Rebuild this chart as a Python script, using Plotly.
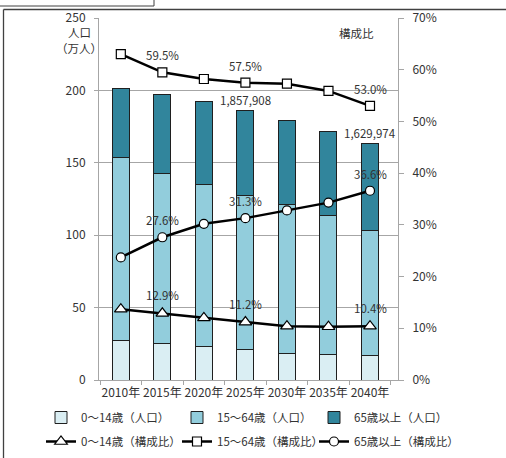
import plotly.graph_objects as go

# ---- data ----
years = ["2010年", "2015年", "2020年", "2025年", "2030年", "2035年", "2040年"]
pop_0_14 = [27.6, 25.4, 23.1, 20.8, 18.6, 17.7, 17.0]        # 万人
pop_15_64 = [126.3, 117.2, 112.0, 106.8, 102.7, 96.0, 86.4]  # 万人
pop_65 = [47.5, 54.4, 57.4, 58.2, 58.0, 58.0, 59.6]          # 万人
total_labels = ["", "", "", "1,857,908", "", "", "1,629,974"]

ratio_0_14 = [13.7, 12.9, 12.0, 11.2, 10.4, 10.3, 10.4]      # %
ratio_15_64 = [63.0, 59.5, 58.2, 57.5, 57.3, 55.9, 53.0]     # %
ratio_65 = [23.7, 27.6, 30.2, 31.3, 32.8, 34.3, 36.6]        # %
label_idx = [1, 3, 6]

FONT = "Noto Sans CJK JP, Noto Sans, sans-serif"
TXT = "#333333"

fig = go.Figure()
bar_line = dict(color="#1f1f1f", width=1)
fig.add_trace(go.Bar(x=years, y=pop_0_14, name="0〜14歳（人口）",
                     marker=dict(color="#DAEEF3", line=bar_line), width=0.41, legend="legend"))
fig.add_trace(go.Bar(x=years, y=pop_15_64, name="15〜64歳（人口）",
                     marker=dict(color="#92CDDC", line=bar_line), width=0.41, legend="legend2"))
fig.add_trace(go.Bar(x=years, y=pop_65, name="65歳以上（人口）",
                     marker=dict(color="#31859C", line=bar_line), width=0.41, legend="legend3"))

mk_line = dict(color="#000000", width=1.2)
fig.add_trace(go.Scatter(x=years, y=ratio_0_14, yaxis="y2", mode="lines+markers",
                         name="0〜14歳（構成比）", line=dict(color="#000", width=2.5),
                         marker=dict(symbol="triangle-up", size=11, color="white", line=mk_line),
                         legend="legend4"))
fig.add_trace(go.Scatter(x=years, y=ratio_15_64, yaxis="y2", mode="lines+markers",
                         name="15〜64歳（構成比）", line=dict(color="#000", width=2.5),
                         marker=dict(symbol="square", size=9, color="white", line=mk_line),
                         legend="legend5"))
fig.add_trace(go.Scatter(x=years, y=ratio_65, yaxis="y2", mode="lines+markers",
                         name="65歳以上（構成比）", line=dict(color="#000", width=2.5),
                         marker=dict(symbol="circle", size=9, color="white", line=mk_line),
                         legend="legend6"))

annotations = []
totals = [a + b + c for a, b, c in zip(pop_0_14, pop_15_64, pop_65)]
for i, t in enumerate(total_labels):
    if t:
        annotations.append(dict(x=years[i], y=totals[i], yref="y", text=t, showarrow=False,
                                yshift=11, font=dict(size=11.5, color=TXT, family=FONT)))
for series, shift in ((ratio_15_64, 17), (ratio_65, 17), (ratio_0_14, 18)):
    for i in label_idx:
        annotations.append(dict(x=years[i], y=series[i], yref="y2", text=f"{series[i]:.1f}%",
                                showarrow=False, yshift=shift,
                                font=dict(size=11.5, color=TXT, family=FONT)))

W, H = 506, 458
L, R, T, B = 99, 398, 18, 380
def px(x):
    return (x - L) / (R - L)
def py(y):
    return (B - y) / (B - T)

for txt, x, y in (("構成比", 356, 33), ("人口", 79, 32), ("（万人）", 79, 48)):
    annotations.append(dict(x=px(x), y=py(y), xref="paper", yref="paper", text=txt,
                            showarrow=False, xanchor="center", yanchor="middle",
                            font=dict(size=11.5, color=TXT, family=FONT)))

shapes = [
    dict(type="rect", xref="paper", yref="paper", x0=px(-1), x1=px(154), y0=py(6), y1=py(-2),
         line=dict(color="#404040", width=1)),
    dict(type="line", xref="paper", yref="paper", x0=px(3.5), x1=px(507), y0=py(9.5), y1=py(9.5),
         line=dict(color="#404040", width=1.3)),
    dict(type="line", xref="paper", yref="paper", x0=px(3.5), x1=px(3.5), y0=py(9.5), y1=py(460),
         line=dict(color="#404040", width=1.3)),
]

GRID = "#A6A6A6"
def leg(x, top):
    return dict(orientation="h", xref="container", yref="container",
                x=x / W, y=1 - top / H, xanchor="left", yanchor="top",
                font=dict(size=11.5, family=FONT, color=TXT),
                bgcolor="rgba(0,0,0,0)", itemwidth=30)

fig.update_layout(
    width=W, height=H,
    margin=dict(l=L, r=W - R, t=T, b=H - B, autoexpand=False),
    paper_bgcolor="white", plot_bgcolor="white",
    barmode="stack",
    font=dict(family=FONT, size=12, color=TXT),
    showlegend=True,
    xaxis=dict(type="category", showline=True, linecolor=GRID, linewidth=1,
               ticks="outside", ticklen=4, tickcolor=GRID, tickson="boundaries",
               showgrid=False, tickfont=dict(size=12), ticklabelstandoff=2, tickangle=0),
    yaxis=dict(range=[0, 250], dtick=50, showgrid=True, gridcolor=GRID, gridwidth=1,
               showline=True, linecolor=GRID, ticks="outside", ticklen=4, tickcolor=GRID,
               zeroline=False, tickfont=dict(size=12), ticklabelstandoff=6),
    yaxis2=dict(range=[0, 70], dtick=10, ticksuffix="%", overlaying="y", side="right",
                showgrid=False, showline=True, linecolor=GRID, ticks="outside", ticklen=5,
                tickcolor=GRID, zeroline=False, tickfont=dict(size=12), ticklabelstandoff=6),
    legend=leg(41, 403), legend2=leg(177, 403), legend3=leg(314, 403),
    legend4=leg(41, 427), legend5=leg(177, 427), legend6=leg(314, 427),
    annotations=annotations,
    shapes=shapes,
)

fig.write_html("out.html")
